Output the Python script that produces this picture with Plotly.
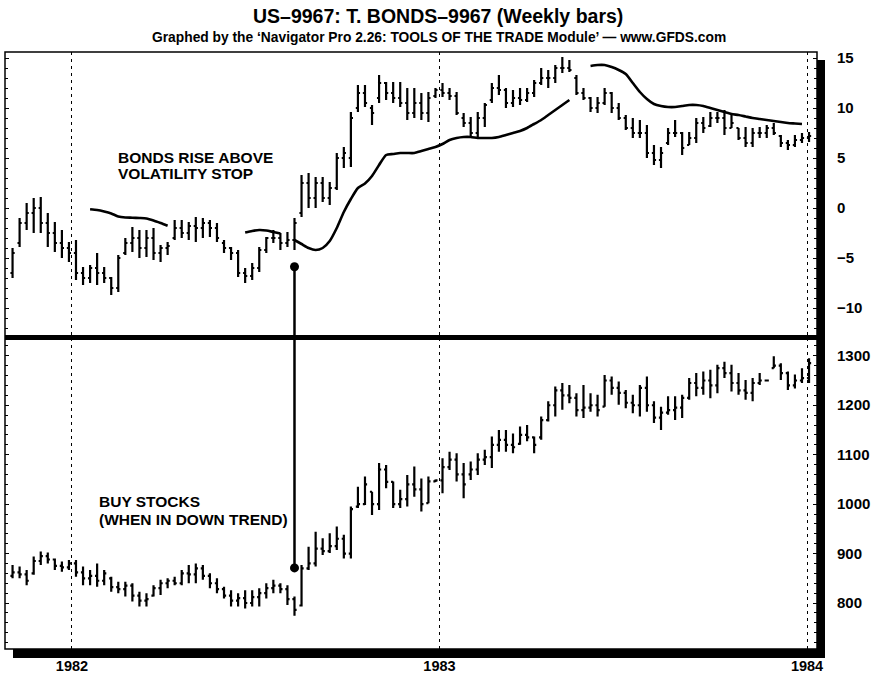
import pandas as pd
import plotly.graph_objects as go
from plotly.subplots import make_subplots

# ---------------- data ----------------
week_start = "1981-11-03"
n_weeks = 114

bond_high = [-4.0, -1.0, 0.5, 1.0, 1.1, -0.5, -1.4, -2.2, -3.4, -3.2,
             -5.9, -5.7, -4.5, -5.9, -6.9, -4.7, -3.0, -1.9, -2.2, -2.2,
             -2.0, -3.7, -3.4, -1.2, -1.2, -1.4, -0.9, -1.0, -1.2, -1.5,
             -3.2, -3.9, -4.2, -6.0, -5.5, -3.9, -2.9, -2.2, -2.5, -2.4,
             -1.0, 3.3, 3.5, 3.1, 3.1, 2.6, 5.5, 6.1, 9.6, 12.3,
             12.3, 10.3, 13.3, 12.6, 12.6, 12.6, 12.0, 12.0, 11.5, 11.6,
             12.0, 12.5, 12.0, 11.6, 9.5, 9.1, 9.6, 10.5, 12.5, 13.3,
             12.0, 11.8, 12.0, 12.0, 12.8, 14.0, 13.8, 14.3, 15.1, 14.8,
             13.3, 12.0, 11.1, 11.1, 12.0, 11.6, 10.5, 9.3, 9.0, 8.8,
             8.3, 6.3, 6.1, 8.0, 8.8, 7.6, 7.6, 9.0, 9.1, 9.6,
             9.6, 9.8, 9.3, 8.0, 8.1, 8.0, 8.1, 8.3, 8.5, 7.3,
             6.8, 7.3, 7.5, 7.6]
bond_low = [-7.0, -3.9, -2.2, -2.5, -2.5, -3.9, -4.4, -5.0, -5.4, -7.2,
            -7.7, -7.5, -7.7, -7.5, -8.7, -8.4, -4.7, -4.4, -5.0, -4.9,
            -5.2, -5.4, -4.7, -3.2, -3.0, -3.2, -3.4, -3.0, -2.9, -3.4,
            -4.5, -5.2, -6.9, -7.5, -7.2, -6.4, -4.5, -3.5, -4.2, -3.9,
            -4.2, -0.9, 0.0, 0.0, 0.6, 0.3, 1.8, 4.0, 4.1, 9.6,
            10.1, 8.3, 10.5, 10.8, 10.5, 10.1, 8.8, 9.0, 8.8, 8.6,
            11.0, 11.1, 10.8, 9.3, 8.1, 7.1, 7.1, 8.1, 10.5, 11.3,
            10.0, 10.1, 10.3, 10.6, 11.1, 12.3, 12.0, 12.5, 13.5, 13.6,
            11.3, 10.8, 9.6, 9.5, 10.3, 9.5, 8.8, 7.8, 7.0, 7.0,
            5.0, 4.3, 4.0, 6.3, 7.1, 5.3, 6.3, 6.5, 7.5, 8.1,
            8.5, 7.3, 8.0, 6.8, 6.1, 6.1, 7.0, 7.0, 7.3, 6.1,
            5.8, 6.1, 6.5, 6.6]
bond_open = [-6.5, -3.5, -1.5, -0.5, 0.0, -1.5, -2.5, -3.5, -4.0, -4.5,
             -6.5, -7.0, -6.0, -6.5, -7.0, -8.0, -4.5, -3.5, -3.0, -4.0,
             -3.0, -4.5, -4.0, -3.0, -2.0, -2.5, -1.8, -2.0, -1.5, -2.0,
             -3.5, -4.0, -4.5, -6.5, -6.8, -6.0, -4.2, -3.0, -3.0, -3.5,
             -3.2, -0.5, 2.5, 1.0, 2.5, 1.0, 2.0, 5.0, 5.0, 10.0,
             11.5, 10.0, 11.0, 12.5, 11.5, 11.0, 10.5, 9.5, 10.5, 9.5,
             11.2, 11.8, 11.5, 11.2, 9.0, 8.5, 7.5, 9.0, 10.8, 12.0,
             11.8, 10.5, 11.0, 10.8, 11.5, 12.5, 13.0, 13.0, 14.0, 14.0,
             13.0, 11.5, 11.0, 10.0, 10.5, 11.5, 10.0, 9.0, 8.0, 7.5,
             7.5, 5.5, 4.8, 6.5, 7.5, 7.5, 6.3, 7.0, 8.5, 8.2,
             9.0, 9.0, 8.0, 8.0, 7.0, 6.5, 7.5, 7.5, 8.0, 7.2,
             6.5, 6.3, 6.8, 7.0]
bond_close = [-4.5, -1.5, -0.5, 0.0, -1.5, -2.5, -3.5, -4.0, -4.5, -6.5,
              -7.0, -6.0, -6.5, -7.0, -8.0, -5.0, -3.5, -3.0, -4.0, -3.0,
              -4.5, -4.0, -3.8, -2.0, -2.5, -1.8, -2.0, -1.5, -2.0, -3.0,
              -4.0, -4.5, -6.5, -6.8, -6.0, -4.2, -3.0, -3.0, -3.5, -3.2,
              -1.5, 2.5, 1.0, 2.5, 1.0, 2.0, 5.0, 5.5, 9.0, 11.5,
              10.5, 9.5, 12.5, 11.5, 11.0, 10.5, 9.5, 10.5, 9.5, 11.0,
              11.8, 11.5, 11.2, 9.5, 8.5, 7.5, 9.0, 10.3, 12.0, 11.8,
              10.5, 11.0, 10.8, 11.5, 12.5, 13.0, 13.0, 14.0, 14.0, 13.8,
              11.5, 11.0, 10.0, 10.5, 11.5, 10.0, 9.0, 8.0, 7.5, 7.5,
              5.5, 4.8, 5.5, 7.5, 7.5, 6.0, 7.0, 8.5, 8.0, 9.0,
              9.0, 8.0, 8.5, 7.0, 6.5, 7.5, 7.5, 8.0, 7.5, 6.5,
              6.3, 6.8, 7.0, 7.2]

# volatility stop, drawn in four pieces (start week index, values)
stop_seg1_start, stop_seg1 = 11, [-0.13, -0.2, -0.35, -0.55, -0.85, -0.95, -0.97, -1.0, -1.05, -1.25, -1.5, -1.77]
stop_seg2_start, stop_seg2 = 33, [-2.45, -2.3, -2.2, -2.25, -2.4, -2.55]
stop_seg3_start, stop_seg3 = 40, [-3.2, -3.6, -4.0, -4.2, -4.0, -3.3, -2.0, -0.4, 0.9, 2.0,
                                  2.45, 3.2, 4.3, 5.3, 5.4, 5.5, 5.5, 5.5, 5.7, 5.9,
                                  6.1, 6.4, 6.8, 7.0, 7.1, 7.1, 7.0, 7.0, 7.0, 7.1,
                                  7.3, 7.5, 7.7, 8.0, 8.4, 8.8, 9.3, 9.8, 10.3, 10.8]
stop_seg4_start, stop_seg4 = 82, [14.2, 14.3, 14.3, 14.1, 13.8, 13.4, 12.5, 11.6, 10.9, 10.4,
                                  10.2, 10.1, 10.1, 10.2, 10.3, 10.3, 10.2, 10.0, 9.8, 9.6,
                                  9.4, 9.3, 9.15, 9.0, 8.9, 8.8, 8.7, 8.6, 8.5, 8.45, 8.4]

stock_high = [877, 874, 867, 894, 904, 902, 890, 884, 887, 887,
              874, 867, 880, 867, 853, 843, 843, 840, 823, 820,
              836, 847, 850, 853, 867, 877, 880, 877, 860, 850,
              833, 826, 820, 826, 826, 830, 840, 847, 840, 836,
              813, 877, 914, 944, 931, 941, 955, 938, 995, 1035,
              1056, 1025, 1083, 1079, 1046, 1029, 1059, 1076, 1052, 1056,
              1050, 1093, 1106, 1103, 1083, 1086, 1103, 1110, 1137, 1150,
              1150, 1143, 1157, 1160, 1137, 1177, 1208, 1238, 1245, 1241,
              1224, 1241, 1224, 1221, 1261, 1258, 1248, 1231, 1221, 1241,
              1258, 1208, 1197, 1218, 1218, 1221, 1255, 1265, 1268, 1272,
              1282, 1288, 1282, 1265, 1251, 1255, 1265, 1251, 1299, 1285,
              1268, 1262, 1275, 1295]
stock_low = [850, 850, 836, 857, 877, 880, 867, 863, 867, 853,
             836, 836, 833, 836, 823, 820, 813, 803, 793, 793,
             813, 816, 830, 836, 836, 840, 840, 847, 830, 820,
             809, 793, 793, 789, 793, 793, 809, 820, 820, 796,
             774, 793, 867, 874, 897, 901, 907, 890, 890, 992,
             998, 978, 988, 1032, 992, 992, 995, 1015, 985, 1002,
             1045, 1022, 1069, 1046, 1012, 1049, 1059, 1079, 1073, 1106,
             1106, 1103, 1120, 1127, 1103, 1130, 1167, 1177, 1191, 1204,
             1177, 1174, 1187, 1177, 1197, 1221, 1201, 1194, 1184, 1177,
             1187, 1164, 1150, 1181, 1170, 1174, 1211, 1218, 1221, 1214,
             1224, 1255, 1228, 1221, 1211, 1208, 1241, 1249, 1275, 1251,
             1231, 1234, 1245, 1245]
stock_open = [855, 862, 858, 860, 885, 895, 888, 875, 872, 880,
              862, 850, 855, 845, 850, 832, 828, 835, 815, 805,
              815, 830, 840, 845, 840, 860, 858, 870, 855, 840,
              828, 815, 805, 810, 800, 812, 820, 830, 835, 828,
              808, 795, 870, 880, 910, 905, 915, 930, 900, 995,
              1000, 1025, 1000, 1070, 1045, 1000, 1010, 1040, 1030, 1002,
              1046, 1048, 1075, 1090, 1060, 1060, 1070, 1090, 1095, 1120,
              1130, 1120, 1122, 1140, 1135, 1135, 1170, 1200, 1230, 1220,
              1215, 1190, 1195, 1200, 1197, 1250, 1235, 1225, 1205, 1200,
              1235, 1200, 1175, 1185, 1190, 1195, 1215, 1245, 1235, 1250,
              1240, 1275, 1265, 1245, 1230, 1225, 1245, 1250, 1275, 1280,
              1265, 1240, 1250, 1255]
stock_close = [862, 858, 845, 885, 895, 888, 875, 872, 880, 862,
               850, 855, 845, 860, 832, 828, 835, 815, 805, 808,
               830, 840, 845, 840, 860, 858, 870, 855, 840, 828,
               815, 805, 810, 800, 812, 820, 830, 835, 828, 808,
               786, 870, 880, 910, 905, 915, 930, 900, 990, 1000,
               1040, 1000, 1070, 1045, 1000, 1010, 1040, 1030, 1000, 1046,
               1048, 1075, 1090, 1060, 1040, 1070, 1090, 1095, 1120, 1130,
               1120, 1115, 1140, 1135, 1120, 1170, 1200, 1230, 1220, 1215,
               1190, 1195, 1200, 1190, 1250, 1235, 1225, 1205, 1200, 1235,
               1200, 1175, 1185, 1190, 1195, 1215, 1245, 1235, 1250, 1240,
               1275, 1265, 1245, 1230, 1225, 1245, 1250, 1250, 1280, 1265,
               1240, 1250, 1255, 1285]

signal_week = 40
signal_bond_level = -5.87
signal_stock_level = 871

year_ticks = ["1982-01-01", "1983-01-01", "1984-01-01"]
bond_ticks = [15, 10, 5, 0, -5, -10]
stock_ticks = [1300, 1200, 1100, 1000, 900, 800]

title_text = "US\u20139967: T. BONDS\u20139967 (Weekly bars)"
subtitle_text = "Graphed by the \u2018Navigator Pro 2.26: TOOLS OF THE TRADE Module\u2019 \u2014 www.GFDS.com"
note_bonds = ["BONDS RISE ABOVE", "VOLATILITY STOP"]
note_stocks = ["BUY STOCKS", "(WHEN IN DOWN TREND)"]

# ---------------- figure ----------------
dates = pd.date_range(week_start, periods=n_weeks, freq="7D")

stop = [None] * n_weeks
for s, seg in [(stop_seg1_start, stop_seg1), (stop_seg2_start, stop_seg2),
               (stop_seg3_start, stop_seg3), (stop_seg4_start, stop_seg4)]:
    for i, v in enumerate(seg):
        stop[s + i] = v

FONT = "'Liberation Sans', Arial, Helvetica, sans-serif"
W, H = 876, 677
ML, MR, MT, MB = 5, 59, 52, 28
PW, PH = W - ML - MR, H - MT - MB
split = (649 - 337.5) / PH
TOP_RANGE = [-12.95, 15.6]
BOT_RANGE = [707, 1337]

fig = make_subplots(rows=2, cols=1, shared_xaxes=True, vertical_spacing=0)

bar_style = dict(line=dict(color="black", width=2.2))
fig.add_trace(go.Ohlc(x=dates, open=bond_open, high=bond_high, low=bond_low, close=bond_close,
                      increasing=bar_style, decreasing=bar_style,
                      tickwidth=0.3, showlegend=False, hoverinfo="skip"), row=1, col=1)
fig.add_trace(go.Scatter(x=dates, y=stop, mode="lines", connectgaps=False,
                         line=dict(color="black", width=2.6, shape="spline", smoothing=0.6),
                         showlegend=False, hoverinfo="skip"), row=1, col=1)
fig.add_trace(go.Ohlc(x=dates, open=stock_open, high=stock_high, low=stock_low, close=stock_close,
                      increasing=bar_style, decreasing=bar_style,
                      tickwidth=0.3, showlegend=False, hoverinfo="skip"), row=2, col=1)

# signal line with dots
sx = dates[signal_week]
fig.add_trace(go.Scatter(x=[sx, sx], y=[signal_bond_level, TOP_RANGE[0]], mode="lines",
                         line=dict(color="black", width=2.5), showlegend=False, hoverinfo="skip",
                         cliponaxis=False), row=1, col=1)
fig.add_trace(go.Scatter(x=[sx, sx], y=[BOT_RANGE[1], signal_stock_level], mode="lines",
                         line=dict(color="black", width=2.5), showlegend=False, hoverinfo="skip",
                         cliponaxis=False), row=2, col=1)
fig.add_trace(go.Scatter(x=[sx], y=[signal_bond_level], mode="markers",
                         marker=dict(color="black", size=9), showlegend=False, hoverinfo="skip"), row=1, col=1)
fig.add_trace(go.Scatter(x=[sx], y=[signal_stock_level], mode="markers",
                         marker=dict(color="black", size=9), showlegend=False, hoverinfo="skip"), row=2, col=1)

xr = ["1981-10-26 12:00", "1984-01-10 22:00"]
common_x = dict(range=xr, showgrid=True, gridcolor="black", gridwidth=1, griddash="3px,4px",
                tickvals=year_ticks, tickformat="%Y", ticks="", showline=False,
                zeroline=False, rangeslider=dict(visible=False), fixedrange=True,
                automargin=False)
fig.update_xaxes(**common_x)
fig.update_xaxes(showticklabels=False, row=1, col=1)
fig.update_xaxes(showticklabels=True, ticklabelstandoff=6,
                 tickfont=dict(family=FONT, size=14.5, color="black", weight="bold"), row=2, col=1)

ycommon = dict(side="right", showgrid=False, zeroline=False, showline=False,
               ticks="inside", ticklen=4, tickcolor="black", tickwidth=1, mirror="ticks",
               ticklabelstandoff=19, automargin=False, fixedrange=True,
               tickfont=dict(family=FONT, size=15, color="black", weight="bold"))
fig.update_yaxes(range=TOP_RANGE, tickvals=bond_ticks,
                 minor=dict(ticks="inside", ticklen=3, dtick=1, tickcolor="black"),
                 domain=[split, 1], row=1, col=1, **ycommon)
fig.update_yaxes(range=BOT_RANGE, tickvals=stock_ticks,
                 minor=dict(ticks="inside", ticklen=3, dtick=20, tickcolor="black"),
                 domain=[0, split], row=2, col=1, **ycommon)

px_x = 1 / PW
px_y = 1 / PH
shapes = [
    dict(type="rect", xref="paper", yref="paper", x0=0, x1=1, y0=0, y1=1,
         line=dict(color="black", width=1.5), fillcolor="rgba(0,0,0,0)"),
    dict(type="rect", xref="paper", yref="paper", x0=1, x1=1 + 8 * px_x, y0=-9 * px_y, y1=1 - 8 * px_y,
         line=dict(width=0), fillcolor="black"),
    dict(type="rect", xref="paper", yref="paper", x0=8 * px_x, x1=1 + 8 * px_x, y0=-9 * px_y, y1=0,
         line=dict(width=0), fillcolor="black"),
    dict(type="line", xref="paper", yref="paper", x0=0, x1=1, y0=split, y1=split,
         line=dict(color="black", width=5)),
]

def ann(text, xp, yp, size, xanchor="left"):
    return dict(text=text, xref="paper", yref="paper",
                x=(xp - ML) / PW, y=(H - MB - yp) / PH, xanchor=xanchor, yanchor="middle",
                showarrow=False, font=dict(family=FONT, size=size, color="black", weight="bold"))

annotations = [
    ann(title_text, 438, 16, 19.5, "center"),
    ann(subtitle_text, 439, 37, 13.8, "center"),
    ann(note_bonds[0], 116, 157, 15.5),
    ann(note_bonds[1], 116, 173, 15.5),
    ann(note_stocks[0], 97, 502, 15.5),
    ann(note_stocks[1], 97, 519, 15.5),
]

fig.update_layout(width=W, height=H, margin=dict(l=ML, r=MR, t=MT, b=MB, autoexpand=False),
                  paper_bgcolor="white", plot_bgcolor="white",
                  shapes=shapes, annotations=annotations, showlegend=False,
                  font=dict(family=FONT, color="black"))

fig.write_html("out.html", config={"displayModeBar": False},
               post_script="document.body.style.margin='0';document.body.style.overflow='hidden';")
